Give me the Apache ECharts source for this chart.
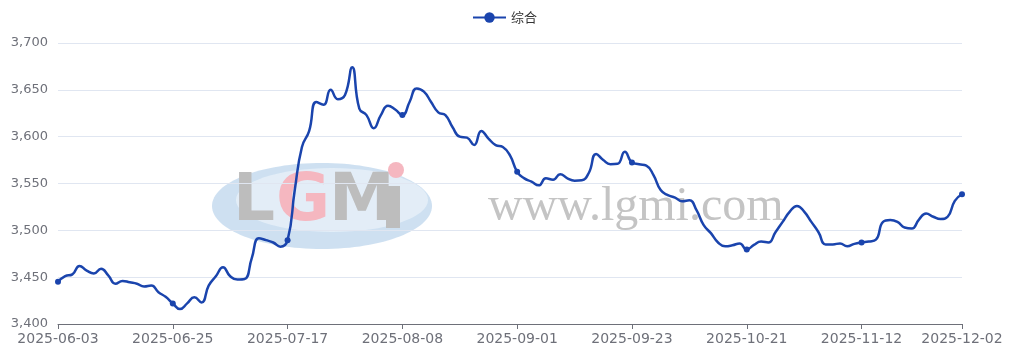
<!DOCTYPE html>
<html><head><meta charset="utf-8">
<script src="https://cdn.jsdelivr.net/npm/echarts@6/dist/echarts.min.js"></script>
<style>html,body{margin:0;padding:0;background:#fff}#c{width:1009px;height:363px}</style>
</head><body><div id="c"></div>
<script>
const dates = [
'2025-06-03','2025-06-04','2025-06-05','2025-06-06','2025-06-09','2025-06-10','2025-06-11','2025-06-12','2025-06-13',
'2025-06-16','2025-06-17','2025-06-18','2025-06-19','2025-06-20','2025-06-23','2025-06-24','2025-06-25','2025-06-26','2025-06-27','2025-06-30',
'2025-07-01','2025-07-02','2025-07-03','2025-07-04','2025-07-07','2025-07-08','2025-07-09','2025-07-10','2025-07-11',
'2025-07-14','2025-07-15','2025-07-16','2025-07-17','2025-07-18','2025-07-21','2025-07-22','2025-07-23','2025-07-24','2025-07-25',
'2025-07-28','2025-07-29','2025-07-30','2025-07-31','2025-08-01','2025-08-04','2025-08-05','2025-08-06','2025-08-07','2025-08-08',
'2025-08-11','2025-08-12','2025-08-13','2025-08-14','2025-08-15','2025-08-18','2025-08-19','2025-08-20','2025-08-21','2025-08-22',
'2025-08-25','2025-08-26','2025-08-27','2025-08-28','2025-08-29','2025-09-01','2025-09-02','2025-09-03','2025-09-04','2025-09-05',
'2025-09-08','2025-09-09','2025-09-10','2025-09-11','2025-09-12','2025-09-15','2025-09-16','2025-09-17','2025-09-18','2025-09-19',
'2025-09-22','2025-09-23','2025-09-24','2025-09-25','2025-09-26','2025-09-28','2025-09-29','2025-09-30','2025-10-09','2025-10-10','2025-10-11',
'2025-10-13','2025-10-14','2025-10-15','2025-10-16','2025-10-17','2025-10-20','2025-10-21','2025-10-22','2025-10-23','2025-10-24',
'2025-10-27','2025-10-28','2025-10-29','2025-10-30','2025-10-31','2025-11-03','2025-11-04','2025-11-05','2025-11-06','2025-11-07',
'2025-11-10','2025-11-11','2025-11-12','2025-11-13','2025-11-14','2025-11-17','2025-11-18','2025-11-19','2025-11-20','2025-11-21',
'2025-11-24','2025-11-25','2025-11-26','2025-11-27','2025-11-28','2025-12-01','2025-12-02'
];
const seriesName = '综合';
const values = [
3445,3451,3453,3462,3457,3454,3459,3452,3443,3446,3444.5,3443,3440,3441,3434,3429,3422,
3416,3422,3428.5,3423,3441,3451,3460.5,3451,3447.5,3448,3470,3491.5,3489.5,3487,3482.5,3489.5,
3543,3589,3606,3637,3634,3650,3640,3644.5,3674,3630,3623,3609,3623,3633,3629,3623,
3637,3651.5,3648,3637,3626,3623,3610,3600,3599,3591,3606,3598,3591,3589,3580,3562.5,
3555.5,3552,3548,3555.5,3554,3560,3555.5,3553,3553.5,3561.5,3581.5,3575,3570.5,3571,3584,3572.5,
3570.5,3569,3559,3543,3537.5,3535,3531,3532,3521.5,3505.5,3497,3487,3483,3484,3486,3479.5,
3484.5,3488,3487,3498,3509,3520,3526,3520,3509,3498,3485,3485,3486,3483,3485.5,3487,
3488,3490,3509,3511,3509,3503,3502,3511.5,3518,3514.5,3512,3514.5,3531.5,3538.5
];
const yMin = 3400, yMax = 3700, yStep = 50;
const lastIdx = dates.length - 1;
const showIdx = (i) => i % 16 === 0 || i === lastIdx;
const chart = echarts.init(document.getElementById('c'));
chart.setOption({
  animation: false,
  color: ['#1a44ad'],
  legend: {
    top: 6, left: 'center', itemWidth: 33, itemHeight: 13,
    textStyle: {fontSize: 13, color: '#333', fontFamily: 'Noto Sans CJK SC'},
    data: [seriesName]
  },
  graphic: [
    {type: 'ellipse', z: -10, shape: {cx: 322, cy: 206, rx: 110, ry: 43}, style: {fill: '#c6daee', opacity: 0.85}},
    {type: 'ellipse', z: -9, shape: {cx: 332, cy: 200, rx: 96, ry: 32}, style: {fill: '#e6eff8', opacity: 0.9}},
    {type: 'text', z: -8, left: 233, top: 170, style: {text: 'L', font: 'bold 66px "DejaVu Sans"', fill: '#bdbdbd'}},
    {type: 'text', z: -8, left: 276, top: 170, style: {text: 'G', font: 'bold 66px "DejaVu Sans"', fill: '#f5b7c0'}},
    {type: 'text', z: -8, left: 329, top: 170, style: {text: 'M', font: 'bold 66px "DejaVu Sans"', fill: '#bdbdbd'}},
    {type: 'rect', z: -8, shape: {x: 386, y: 186, width: 14, height: 42}, style: {fill: '#bdbdbd'}},
    {type: 'circle', z: -8, shape: {cx: 396, cy: 170, r: 8}, style: {fill: '#f5b7c0'}},
    {type: 'text', z: -8, left: 488, top: 183, style: {text: 'www.lgmi.com', font: '48px "Liberation Serif"', fill: '#c4c4c4'}}
  ],
  grid: {left: 58, right: 47, top: 43, bottom: 39, containLabel: false},
  xAxis: {
    type: 'category', data: dates, boundaryGap: false,
    axisLine: {lineStyle: {color: '#6E7079'}},
    axisTick: {alignWithLabel: true, interval: (i) => showIdx(i), length: 5},
    axisLabel: {interval: (i) => showIdx(i), color: '#6E7079', fontSize: 14, fontFamily: 'DejaVu Sans', margin: 8, showMaxLabel: true},
    splitLine: {show: false}
  },
  yAxis: {
    type: 'value', min: yMin, max: yMax, interval: yStep,
    axisLine: {show: false}, axisTick: {show: false},
    axisLabel: {color: '#6E7079', fontSize: 13, fontFamily: 'DejaVu Sans', margin: 10,
      formatter: (v) => v.toLocaleString('en-US')},
    splitLine: {lineStyle: {color: '#E0E6F1'}}
  },
  series: [{
    name: seriesName, type: 'line', data: values, smooth: true,
    symbol: 'circle', symbolSize: 6,
    lineStyle: {width: 2.5, color: '#1a44ad'},
    itemStyle: {color: '#1a44ad'}
  }]
});
</script></body></html>
